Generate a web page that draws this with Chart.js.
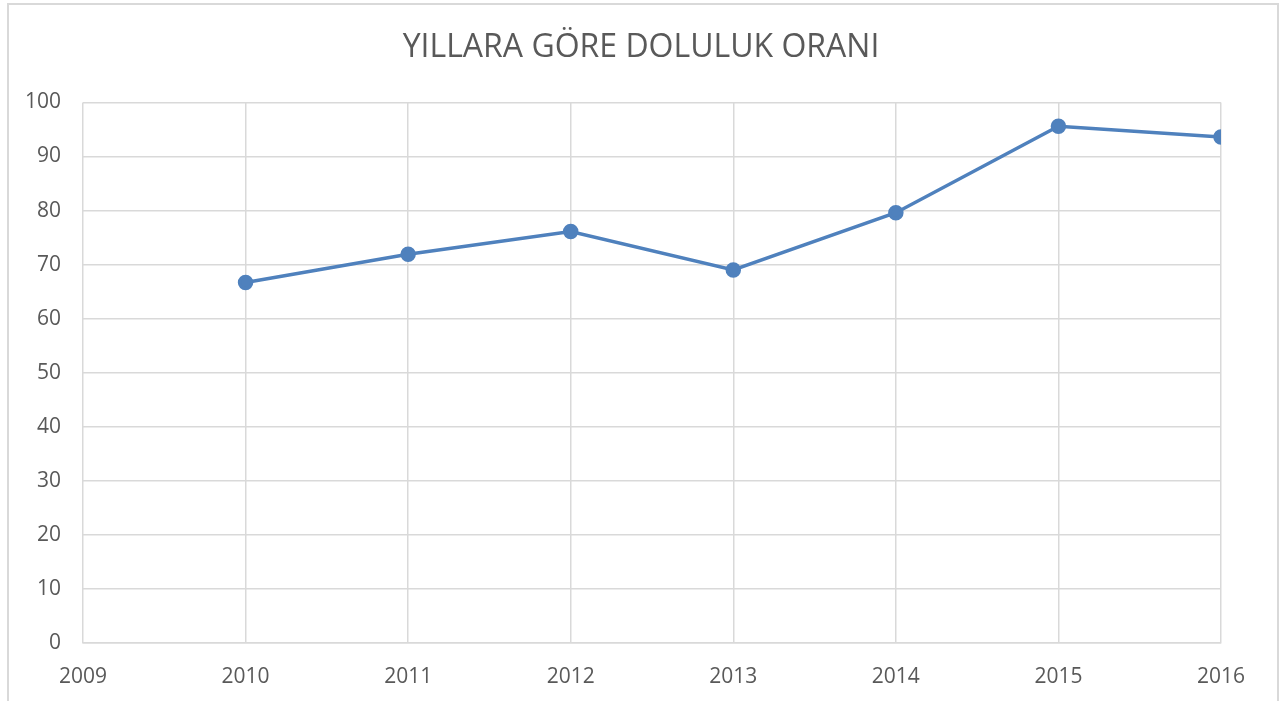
<!doctype html>
<html lang="tr">
<head>
<meta charset="utf-8">
<title>Yıllara göre doluluk oranı</title>
<script src="https://cdn.jsdelivr.net/npm/chart.js"></script>
<style>
  body { margin: 0; background: #fff; }
  #frame { position: absolute; left: 7px; top: 3px; width: 1268px; height: 720px; border: 2px solid #d9d9d9; }
  #wrap { position: absolute; left: 0; top: 0; width: 1282px; height: 701px; }
</style>
</head>
<body>
<div id="frame"></div>
<div id="wrap"><canvas id="chart" width="1282" height="701"></canvas></div>
<script>
  // yillar ve doluluk oranlari
  const years = [2010, 2011, 2012, 2013, 2014, 2015, 2016];
  const occupancy = [66.7, 71.9, 76.1, 69.0, 79.6, 95.6, 93.6];
  const chartTitle = "YILLARA GÖRE DOLULUK ORANI";

  const points = years.map((y, i) => ({ x: y, y: occupancy[i] }));
  const gray = "#d9d9d9";
  const textColor = "#595959";
  const fontFamily = "'Open Sans', 'Liberation Sans', sans-serif";

  // center the title over the whole canvas, not only the padded area
  const centerTitle = {
    id: "centerTitle",
    afterLayout(chart) {
      const t = chart.titleBlock;
      if (!t) return;
      t.left = 0;
      t.right = chart.width;
      t.width = chart.width;
    }
  };

  new Chart(document.getElementById("chart").getContext("2d"), {
    type: "line",
    data: {
      datasets: [{
        label: "Doluluk",
        data: points,
        borderColor: "#4f81bd",
        backgroundColor: "#4f81bd",
        borderWidth: 3.5,
        pointRadius: 6,
        pointHoverRadius: 6,
        tension: 0
      }]
    },
    options: {
      responsive: false,
      animation: false,
      layout: { padding: { left: 8, right: 61, top: 0, bottom: 12 } },
      plugins: {
        legend: { display: false },
        tooltip: { enabled: false },
        title: {
          display: true,
          text: chartTitle,
          color: textColor,
          font: { family: fontFamily, size: 32, weight: "normal" },
          padding: { top: 29, bottom: 35 }
        }
      },
      scales: {
        x: {
          type: "linear",
          min: 2009,
          max: 2016,
          ticks: {
            stepSize: 1,
            color: textColor,
            padding: 21,
            font: { family: fontFamily, size: 21 },
            callback: v => String(v)
          },
          grid: { color: gray, lineWidth: 1.5, drawTicks: false },
          border: { color: gray, width: 1.5 },
          afterFit: s => { s.height = 46; }
        },
        y: {
          min: 0,
          max: 100,
          ticks: {
            stepSize: 10,
            color: textColor,
            padding: 22,
            font: { family: fontFamily, size: 21 }
          },
          grid: { color: gray, lineWidth: 1.5, drawTicks: false },
          border: { display: false },
          afterFit: s => { s.width = 75; }
        }
      }
    },
    plugins: [centerTitle]
  });
</script>
</body>
</html>
